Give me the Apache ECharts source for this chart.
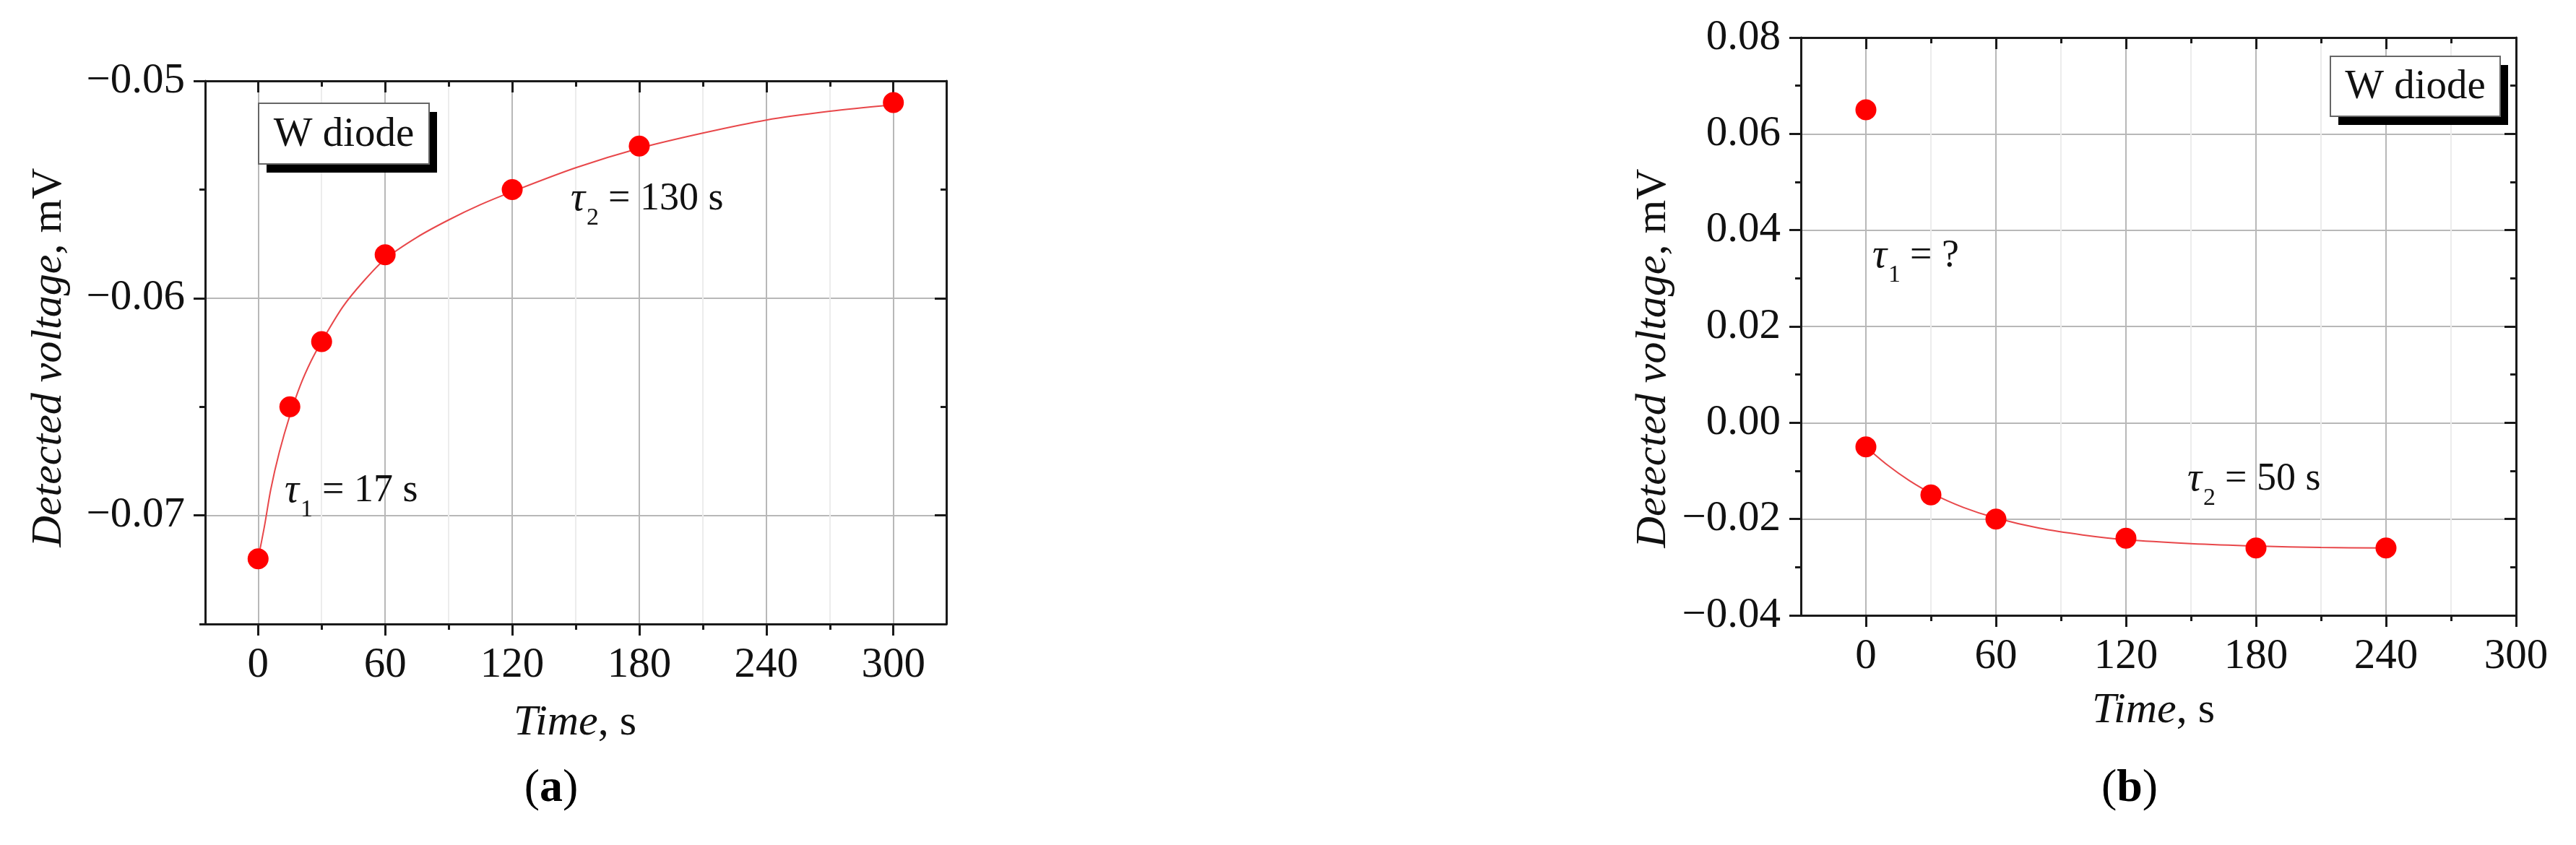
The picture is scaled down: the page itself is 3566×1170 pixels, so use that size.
<!DOCTYPE html>
<html><head><meta charset="utf-8">
<script src="https://cdn.jsdelivr.net/npm/echarts@6/dist/echarts.min.js"></script>
<style>html,body{margin:0;padding:0;background:#fff}#c{width:3566px;height:1170px}</style>
</head><body><div id="c"></div>
<script>
// ---------- Panel (a) ----------
const timeA = [0, 15, 30, 60, 120, 180, 300];
const voltA = [-0.072, -0.065, -0.062, -0.058, -0.055, -0.053, -0.051];
const fitTimeA = [0, 3, 6, 10, 15, 20, 25, 30, 40, 50, 60, 75, 90, 105, 120, 150, 180, 210, 240, 270, 300];
const fitVoltA = [-0.0720, -0.0705, -0.0688, -0.0671, -0.0654, -0.0640, -0.0629, -0.0620, -0.0604, -0.0592, -0.0582, -0.0572, -0.0564, -0.0557, -0.0551, -0.0540, -0.0531, -0.0524, -0.0518, -0.0514, -0.0511];
// ---------- Panel (b) ----------
const timeB = [0, 0, 30, 60, 120, 180, 240];
const voltB = [0.065, -0.005, -0.015, -0.020, -0.024, -0.026, -0.026];
const fitTimeB = [0, 10, 20, 30, 45, 60, 80, 100, 120, 150, 180, 210, 240];
const fitVoltB = [-0.0050, -0.0088, -0.0120, -0.0146, -0.0176, -0.0198, -0.0219, -0.0233, -0.0243, -0.0251, -0.0256, -0.0259, -0.0260];
// ---------- Ticks ----------
const xMajorTicks = [0, 60, 120, 180, 240, 300];
const xMinorTicks = [30, 90, 150, 210, 270];
const yMajorA = [-0.07, -0.06, -0.05];
const yMinorA = [-0.075, -0.065, -0.055];
const yMajorB = [-0.04, -0.02, 0, 0.02, 0.04, 0.06, 0.08];
const yMinorB = [-0.03, -0.01, 0.01, 0.03, 0.05, 0.07];
const legendText = 'W diode';
const xTitle = ['Time', ', s'];
const yTitle = ['Detected voltage', ', mV'];

const FF = '"Liberation Serif","DejaVu Serif",serif';
const AX = '#1a1a1a';
const fmtY = v => (v < 0 ? '\u2212' : '') + Math.abs(v).toFixed(2);

function xAxesFor(gi, min, max) {
  const base = {gridIndex: gi, type: 'value', min, max};
  return [
    Object.assign({}, base, {position: 'bottom',
      axisLine: {show: true, onZero: false, lineStyle: {color: AX, width: 3}},
      axisTick: {show: true, inside: false, length: 16, customValues: xMajorTicks, lineStyle: {color: AX, width: 3}},
      axisLabel: {show: true, customValues: xMajorTicks, margin: 28, fontFamily: FF, fontSize: 59, lineHeight: 59, color: '#111'},
      splitLine: {show: true, lineStyle: {color: '#b8b8b8', width: 2}}}),
    Object.assign({}, base, {position: 'bottom',
      axisLine: {show: false, onZero: false},
      axisTick: {show: true, inside: false, length: 8, customValues: xMinorTicks, lineStyle: {color: AX, width: 3}},
      axisLabel: {show: false},
      splitLine: {show: true, lineStyle: {color: '#ececec', width: 2}}}),
    Object.assign({}, base, {position: 'top',
      axisLine: {show: true, onZero: false, lineStyle: {color: AX, width: 3}},
      axisTick: {show: true, inside: true, length: 16, customValues: xMajorTicks, lineStyle: {color: AX, width: 3}},
      axisLabel: {show: false}, splitLine: {show: false}}),
    Object.assign({}, base, {position: 'top',
      axisLine: {show: false, onZero: false},
      axisTick: {show: true, inside: true, length: 8, customValues: xMinorTicks, lineStyle: {color: AX, width: 3}},
      axisLabel: {show: false}, splitLine: {show: false}})
  ];
}
function yAxesFor(gi, min, max, maj, mnr) {
  const base = {gridIndex: gi, type: 'value', min, max};
  return [
    Object.assign({}, base, {position: 'left',
      axisLine: {show: true, onZero: false, lineStyle: {color: AX, width: 3}},
      axisTick: {show: true, inside: false, length: 16, customValues: maj, lineStyle: {color: AX, width: 3}},
      axisLabel: {show: true, customValues: maj, margin: 28, fontFamily: FF, fontSize: 59, lineHeight: 59, color: '#111', formatter: fmtY},
      splitLine: {show: true, lineStyle: {color: '#b8b8b8', width: 2}}}),
    Object.assign({}, base, {position: 'left',
      axisLine: {show: false, onZero: false},
      axisTick: {show: true, inside: false, length: 8, customValues: mnr, lineStyle: {color: AX, width: 3}},
      axisLabel: {show: false}, splitLine: {show: false}}),
    Object.assign({}, base, {position: 'right',
      axisLine: {show: true, onZero: false, lineStyle: {color: AX, width: 3}},
      axisTick: {show: true, inside: true, length: 16, customValues: maj, lineStyle: {color: AX, width: 3}},
      axisLabel: {show: false}, splitLine: {show: false}}),
    Object.assign({}, base, {position: 'right',
      axisLine: {show: false, onZero: false},
      axisTick: {show: true, inside: true, length: 8, customValues: mnr, lineStyle: {color: AX, width: 3}},
      axisLabel: {show: false}, splitLine: {show: false}})
  ];
}

function pairs(xs, ys) { return xs.map((x, i) => [x, ys[i]]); }

function legendBox(x, y, w, h) {
  return [
    {type: 'rect', shape: {x: x + 11, y: y + 12, width: w, height: h}, style: {fill: '#000'}, z: 100},
    {type: 'rect', shape: {x: x, y: y, width: w, height: h}, style: {fill: '#fff', stroke: '#666', lineWidth: 2}, z: 101},
    {type: 'text', x: x + w / 2, y: y + h / 2 + 2, z: 102,
      style: {text: legendText, font: '57px ' + FF, fill: '#111', align: 'center', verticalAlign: 'middle'}}
  ];
}
function tau(x, y, sub, rest) {
  return [
    {type: 'text', x: x, y: y, z: 102, style: {text: '\u03c4', font: 'italic 56px ' + FF, fill: '#111', align: 'left', verticalAlign: 'middle'}},
    {type: 'text', x: x + 22, y: y + 26, z: 102, style: {text: sub, font: '34px ' + FF, fill: '#111', align: 'left', verticalAlign: 'middle'}},
    {type: 'text', x: x + 52, y: y, z: 102, style: {text: rest, font: '54px ' + FF, fill: '#111', align: 'left', verticalAlign: 'middle'}}
  ];
}
function richTitle(x, y, parts, rot) {
  return {type: 'text', x: x, y: y, rotation: rot || 0, z: 102,
    style: {text: '{i|' + parts[0] + '}{n|' + parts[1] + '}', align: 'center', verticalAlign: 'middle',
      rich: {i: {font: 'italic 60px ' + FF, fill: '#111'}, n: {font: '60px ' + FF, fill: '#111'}}}};
}
function panelLabel(x, y, letter) {
  return {type: 'text', x: x, y: y, z: 102,
    style: {text: '{p|(}{b|' + letter + '}{p|)}', align: 'center', verticalAlign: 'middle',
      rich: {p: {font: '64px ' + FF, fill: '#000'}, b: {font: 'bold 64px ' + FF, fill: '#000'}}}};
}

const option = {
  backgroundColor: '#fff',
  animation: false,
  grid: [
    {left: 284, top: 112, width: 1026, height: 752},
    {left: 2493, top: 52, width: 990, height: 800}
  ],
  xAxis: [].concat(xAxesFor(0, -25, 325), xAxesFor(1, -30, 300)),
  yAxis: [].concat(yAxesFor(0, -0.075, -0.05, yMajorA, yMinorA), yAxesFor(1, -0.04, 0.08, yMajorB, yMinorB)),
  series: [
    {type: 'line', xAxisIndex: 0, yAxisIndex: 0, data: pairs(fitTimeA, fitVoltA), smooth: 0.3, showSymbol: false,
      lineStyle: {color: '#e8474a', width: 2}, z: 3},
    {type: 'scatter', xAxisIndex: 0, yAxisIndex: 0, data: pairs(timeA, voltA), symbolSize: 29,
      itemStyle: {color: '#ff0000', opacity: 1}, z: 4},
    {type: 'line', xAxisIndex: 4, yAxisIndex: 4, data: pairs(fitTimeB, fitVoltB), smooth: 0.3, showSymbol: false,
      lineStyle: {color: '#e8474a', width: 2}, z: 3},
    {type: 'scatter', xAxisIndex: 4, yAxisIndex: 4, data: pairs(timeB, voltB), symbolSize: 29,
      itemStyle: {color: '#ff0000', opacity: 1}, z: 4}
  ],
  graphic: [].concat(
    legendBox(358, 143, 236, 84),
    legendBox(3226, 78, 235, 83),
    tau(790, 276, '2', '= 130 s'),
    tau(394, 680, '1', '= 17 s'),
    tau(2592, 355, '1', '= ?'),
    tau(3028, 664, '2', '= 50 s'),
    [richTitle(796, 1001, xTitle), richTitle(2981, 984, xTitle),
     richTitle(68, 495, yTitle, Math.PI / 2), richTitle(2289, 496, yTitle, Math.PI / 2),
     panelLabel(763, 1092, 'a'), panelLabel(2948, 1092, 'b')]
  )
};
const chart = echarts.init(document.getElementById('c'), null, {renderer: 'canvas'});
chart.setOption(option);
</script></body></html>
